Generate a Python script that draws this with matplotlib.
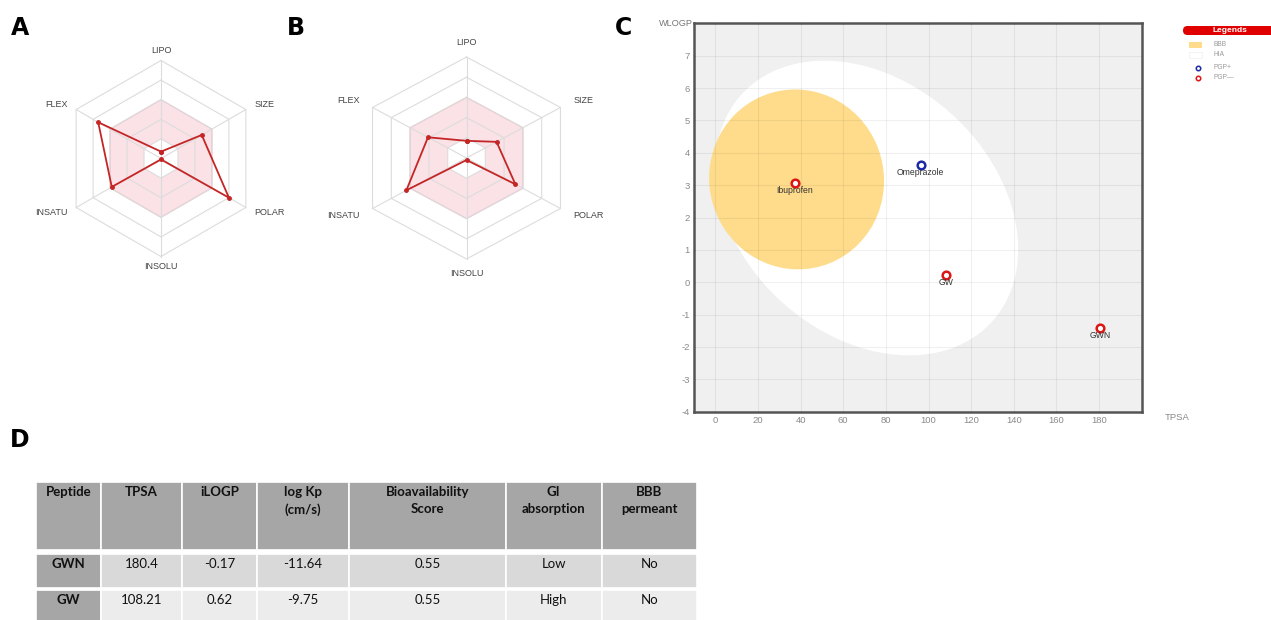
import numpy as np
import matplotlib
matplotlib.use("Agg")
import matplotlib.pyplot as plt
from matplotlib.patches import Ellipse, Rectangle, FancyBboxPatch

plt.rcParams["axes.unicode_minus"] = False

# ---- data ----
radar_axes = ["LIPO", "SIZE", "POLAR", "INSOLU", "INSATU", "FLEX"]
radar_gwn = [0.07, 0.48, 0.80, 0.01, 0.58, 0.74]   # panel A
radar_gw = [0.17, 0.32, 0.52, 0.02, 0.64, 0.41]    # panel B
radar_levels = [0.2, 0.4, 0.6, 0.8, 1.0]
optimal_range = (0.2, 0.6)

egg_names = ["Ibuprofen", "Omeprazole", "GW", "GWN"]
egg_tpsa = [37.3, 96.3, 108.21, 180.4]
egg_wlogp = [3.07, 3.63, 0.23, -1.41]
egg_pgp = [False, True, False, False]

# ellipse params (center x, center y, width, height, angle deg)
hia_ellipse = (71.051, 2.292, 142.081, 8.740, -1.031325)
bbb_ellipse = (38.117, 3.177, 82.061, 5.557, -0.066235)

tbl_header = ["Peptide", "TPSA", "iLOGP", "log Kp\n(cm/s)", "Bioavailability\nScore",
              "GI\nabsorption", "BBB\npermeant"]
tbl_peptide = ["GWN", "GW"]
tbl_tpsa = ["180.4", "108.21"]
tbl_ilogp = ["-0.17", "0.62"]
tbl_logkp = ["-11.64", "-9.75"]
tbl_bioav = ["0.55", "0.55"]
tbl_gi = ["Low", "High"]
tbl_bbb = ["No", "No"]

W, H = 1271, 620
fig = plt.figure(figsize=(W / 100, H / 100), dpi=100)

# overlay axes in pixel coords (letters, legend, table)
ov = fig.add_axes([0, 0, 1, 1])
ov.set_xlim(0, W)
ov.set_ylim(H, 0)
ov.axis("off")


def px_rect(left, top, width, height):
    return [left / W, (H - top - height) / H, width / W, height / H]


# ---- radar charts ----
GRID = "#dcdcdc"
RED = "#c42626"


def radar(rect, values, label_r):
    ax = fig.add_axes(rect, projection="polar")
    ax.set_aspect("auto")
    ax.set_theta_offset(np.pi / 2)
    ax.set_theta_direction(-1)
    ax.set_ylim(0, 1)
    ax.axis("off")
    theta = np.arange(len(radar_axes)) * 2 * np.pi / len(radar_axes)
    tc = np.append(theta, theta[0])
    # pink optimal zone
    lo, hi = optimal_range
    ax.fill(np.concatenate([tc, tc[::-1]]),
            [hi] * len(tc) + [lo] * len(tc),
            color="#f9d9df", alpha=0.75, lw=0, zorder=1)
    ax.plot(tc, [hi] * len(tc), color="#f1b9c4", lw=0.8, zorder=2)
    for lv in radar_levels:
        ax.plot(tc, [lv] * len(tc), color=GRID, lw=0.8, zorder=2, clip_on=False)
    for t in theta:
        ax.plot([t, t], [0, 1], color=GRID, lw=0.8, zorder=2, clip_on=False)
    v = np.append(values, values[0])
    ax.plot(tc, v, color=RED, lw=1.3, marker="o", ms=2.5, zorder=4, clip_on=False)
    for t, name in zip(theta, radar_axes):
        s = np.sin(t)
        ha = "left" if s > 0.1 else ("right" if s < -0.1 else "center")
        ax.text(t, label_r, name, ha=ha, va="center", fontsize=6.5,
                color="#444444", family="Liberation Sans")
    return ax


radar(px_rect(63, 60.5, 196, 196), radar_gwn, 1.1)
radar(px_rect(358, 57, 217, 202), radar_gw, 1.14)

# ---- boiled egg ----
ax = fig.add_axes(px_rect(694, 23.3, 447.7, 388.4))
ax.set_facecolor("#f0f0f0")
for (cx, cy, w, h, ang), fc in [(hia_ellipse, "white"), (bbb_ellipse, "#fedc8b")]:
    ax.add_patch(Ellipse((cx, cy), w, h, angle=ang, facecolor=fc, edgecolor="none", zorder=1))
ax.set_xlim(-10, 200)
ax.set_ylim(-4, 8)
ax.set_xticks(np.arange(0, 181, 20))
ax.set_yticks(np.arange(-4, 8, 1))
ax.grid(True, color="black", alpha=0.06, lw=0.8, zorder=2)
ax.set_axisbelow(False)
ax.tick_params(length=0, labelsize=6.8, labelcolor="#8a8a8a", pad=3)
for lab in ax.get_xticklabels() + ax.get_yticklabels():
    lab.set_family("Liberation Sans")
for sp in ax.spines.values():
    sp.set_color("#555555")
    sp.set_linewidth(1.8)
for name, xv, yv, pgp in zip(egg_names, egg_tpsa, egg_wlogp, egg_pgp):
    col = "#1c2aa8" if pgp else "#dd1515"
    ax.plot(xv, yv, "o", ms=5.5, mfc="white", mec=col, mew=1.8, zorder=5)
    ax.annotate(name, (xv, yv), xytext=(0, -8), textcoords="offset pixels",
                ha="center", va="center", fontsize=6.2, color="#333333",
                family="Liberation Sans", zorder=6)
fig.text(693 / W, 1 - 23 / H, "WLOGP", ha="right", va="center", fontsize=6.6,
         color="#777777", family="Liberation Sans")
fig.text(1165 / W, 1 - 418 / H, "TPSA", ha="left", va="center", fontsize=6.8,
         color="#888888", family="Liberation Sans")

# legend box
ov.add_patch(FancyBboxPatch((1183, 26), 100, 9, boxstyle="round,pad=0,rounding_size=4.5",
                            fc="#e00000", ec="none"))
ov.text(1230, 30.5, "Legends", ha="center", va="center", fontsize=6, color="white",
        weight="bold", family="Liberation Sans")
ov.add_patch(Rectangle((1189, 41.5), 13, 6, fc="#fedc8b", ec="none"))
ov.add_patch(Rectangle((1189, 52), 13, 6, fc="white", ec="#eeeeee", lw=0.5))
ov.plot(1197.7, 67.7, "o", ms=3.2, mfc="white", mec="#1c2aa8", mew=1.1)
ov.plot(1197.7, 77.7, "o", ms=3.2, mfc="white", mec="#dd1515", mew=1.1)
for yy, t in zip([44.7, 55, 67.7, 77.7], ["BBB", "HIA", "PGP+", "PGP\u2014"]):
    ov.text(1213, yy, t, ha="left", va="center", fontsize=4.8, color="#999999",
            family="Liberation Sans")

# panel letters
for (x, y), t in zip([(20, 28), (296, 28), (623, 28), (20, 440)], "ABCD"):
    ov.text(x, y, t, ha="center", va="center", fontsize=17, weight="bold",
            family="DejaVu Sans", color="black")

# ---- table ----
col_edges = [35.8, 101, 182, 257, 349, 506, 601.5, 697]
row_edges = [(481.7, 550), (553.5, 588.3), (590, 626)]
columns = [tbl_peptide, tbl_tpsa, tbl_ilogp, tbl_logkp, tbl_bioav, tbl_gi, tbl_bbb]
row_colors = ["#d9d9d9", "#ececec"]
HEAD = "#a6a6a6"
TFONT = "Lato"

top, bot = row_edges[0]
for j, head in enumerate(tbl_header):
    x0, x1 = col_edges[j], col_edges[j + 1]
    ov.add_patch(Rectangle((x0, top), x1 - x0, bot - top, fc=HEAD, ec="white", lw=1.2))
    ov.text((x0 + x1) / 2, top + 4, head, ha="center", va="top", fontsize=9.5,
            weight="bold", family=TFONT, color="#111111", linespacing=1.55)

for i in range(len(tbl_peptide)):
    top, bot = row_edges[i + 1]
    for j, col in enumerate(columns):
        x0, x1 = col_edges[j], col_edges[j + 1]
        fc = HEAD if j == 0 else row_colors[i]
        ov.add_patch(Rectangle((x0, top), x1 - x0, bot - top, fc=fc, ec="white", lw=1.2))
        ov.text((x0 + x1) / 2, top + 10, col[i], ha="center", va="center", fontsize=9.5,
                weight="bold" if j == 0 else "normal", family=TFONT, color="#111111")

fig.savefig("out.png", dpi=100)
